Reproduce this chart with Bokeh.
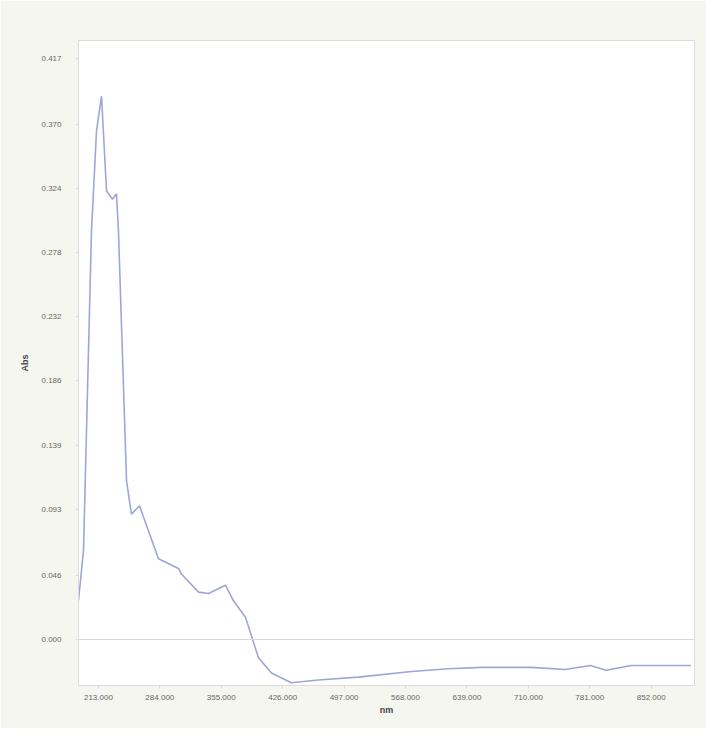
from bokeh.plotting import figure
from bokeh.models import FixedTicker, NumeralTickFormatter, Span, Range1d
from bokeh.embed import file_html
from bokeh.resources import INLINE

# Spectrum (wavelength in nm, absorbance)
wavelength = [190, 195.8, 205, 210.8, 216.6, 222.4, 229.3, 233.9, 236.2, 245.5,
              251.2, 260.5, 282.4, 305.6, 309, 328.7, 340.2, 359.9, 369, 383,
              398, 413, 436, 467, 513.5, 575, 617.5, 655.7, 713.5, 752.7,
              781.6, 800, 829, 898]
absorbance = [0.028, 0.064, 0.293, 0.365, 0.390, 0.322, 0.316, 0.320, 0.293, 0.114,
              0.090, 0.096, 0.058, 0.051, 0.047, 0.034, 0.033, 0.039, 0.028, 0.016,
              -0.013, -0.024, -0.031, -0.029, -0.027, -0.023, -0.021, -0.020, -0.020, -0.0215,
              -0.0186, -0.022, -0.0186, -0.0186]

x_ticks = [213, 284, 355, 426, 497, 568, 639, 710, 781, 852]
y_ticks = [0.000, 0.046, 0.093, 0.139, 0.186, 0.232, 0.278, 0.324, 0.370, 0.417]

p = figure(width=706, height=728, output_backend="svg", toolbar_location=None,
           x_range=Range1d(190, 902), y_range=Range1d(-0.033, 0.430),
           min_border_left=78, min_border_top=40, min_border_right=12, min_border_bottom=43,
           background_fill_color="white", border_fill_color="#f6f6f1",
           outline_line_color="#dcdcdc")

p.line(wavelength, absorbance, line_color="#9ea6d6", line_width=1.6)

p.add_layout(Span(location=0, dimension="width", line_color="#d8d8d8", line_width=1))

p.xgrid.visible = False
p.ygrid.visible = False

p.xaxis.ticker = FixedTicker(ticks=x_ticks)
p.xaxis.formatter = NumeralTickFormatter(format="0.000")
p.yaxis.ticker = FixedTicker(ticks=y_ticks)
p.yaxis.formatter = NumeralTickFormatter(format="0.000")

p.xaxis.axis_label = "nm"
p.yaxis.axis_label = "Abs"

for ax in (p.xaxis, p.yaxis):
    ax.axis_line_color = "#dcdcdc"
    ax.major_tick_line_color = "#dcdcdc"
    ax.minor_tick_line_color = None
    ax.major_tick_out = 3
    ax.major_tick_in = 0
    ax.major_label_text_font = "Liberation Sans"
    ax.major_label_text_font_size = "8px"
    ax.major_label_text_color = "#666666"
    ax.axis_label_text_font = "Liberation Sans"
    ax.axis_label_text_font_size = "9px"
    ax.axis_label_text_font_style = "bold"
    ax.axis_label_text_color = "#444444"

p.xaxis.major_label_standoff = 6
p.xaxis.axis_label_standoff = 2
p.yaxis.major_label_standoff = 14
p.yaxis.axis_label_standoff = 8

open("out.html", "w").write(file_html(p, INLINE))
